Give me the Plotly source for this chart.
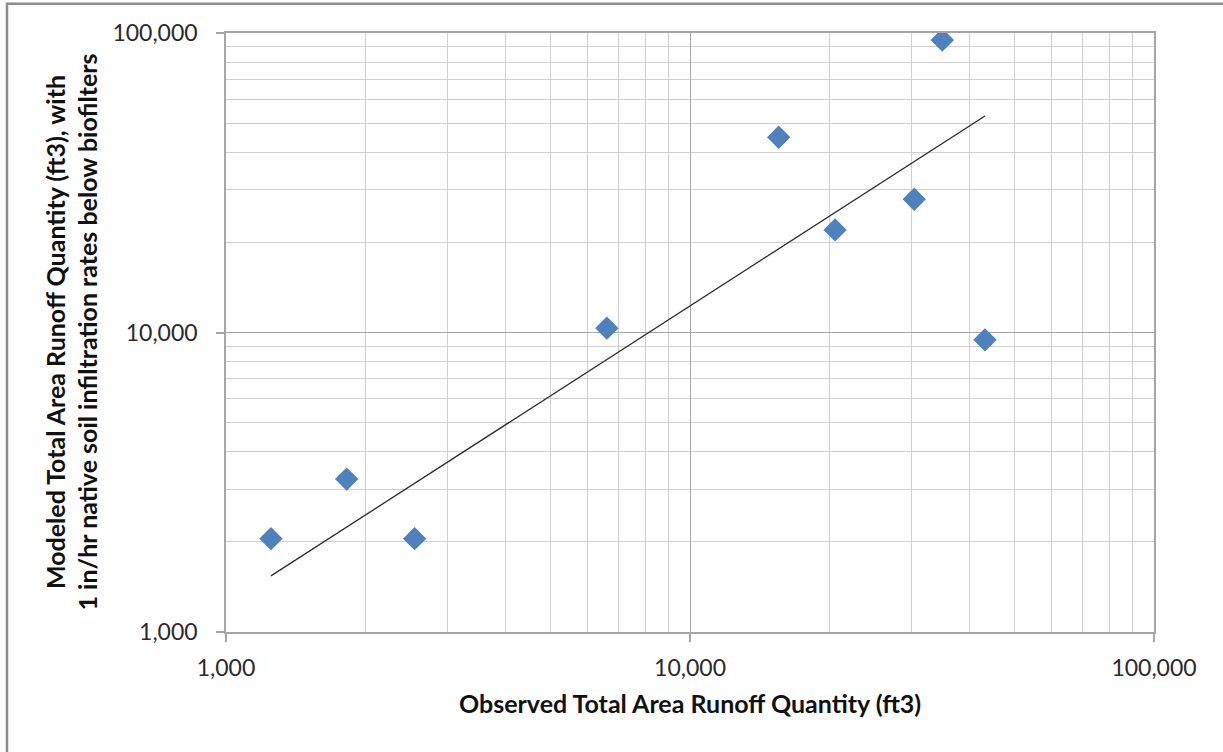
import plotly.graph_objects as go

# Observed vs. modeled runoff volumes (ft3) per storm event
observed_ft3 = [1250, 1820, 2550, 6620, 15530, 20540, 30430, 34980, 43220]
modeled_ft3 = [2050, 3240, 2050, 10340, 44870, 22010, 27860, 94770, 9450]

# Trend line end points (drawn across the observed range)
trend_x = [1250, 43220]
trend_y = [1540, 52840]

major_ticks = [1000, 10000, 100000]
major_labels = ["1,000", "10,000", "100,000"]
minor_ticks = [m * d for d in (1000, 10000) for m in range(2, 10)]

x_title = "Observed Total Area Runoff Quantity (ft3)"
y_title = ("Modeled Total Area Runoff Quantity (ft3), with<br>"
           "1 in/hr native soil infiltration rates below biofilters")

FONT = "Lato, 'Open Sans', sans-serif"
MAJOR_GRID = "#a6a6a6"
MINOR_GRID = "#d0d0d0"

fig = go.Figure()

fig.add_trace(go.Scatter(
    x=observed_ft3, y=modeled_ft3, mode="markers",
    marker=dict(symbol="diamond", size=18, color="#4f81bd",
                line=dict(width=0)),
    showlegend=False, hoverinfo="x+y",
))

fig.add_trace(go.Scatter(
    x=trend_x, y=trend_y, mode="lines",
    line=dict(color="#2b2b2b", width=1.3),
    showlegend=False, hoverinfo="skip",
))

axis_common = dict(
    type="log",
    tickmode="array",
    tickvals=major_ticks,
    ticktext=major_labels,
    showgrid=True,
    gridcolor=MAJOR_GRID,
    gridwidth=1,
    minor=dict(tickmode="array", tickvals=minor_ticks, showgrid=True,
               gridcolor=MINOR_GRID, gridwidth=1, ticks=""),
    showline=True,
    linecolor="#a6a6a6",
    linewidth=1.5,
    mirror=True,
    ticks="outside",
    ticklen=8,
    tickcolor="#a6a6a6",
    tickwidth=1.5,
    zeroline=False,
    tickfont=dict(family=FONT, size=23, color="#2a2a2a"),
)

fig.update_xaxes(range=[3, 5], ticklabelstandoff=7, **axis_common)
fig.update_yaxes(range=[3, 5], ticklabelstandoff=14, **axis_common)

fig.update_layout(
    width=1223, height=752,
    margin=dict(l=226, r=69, t=33, b=120),
    paper_bgcolor="white",
    plot_bgcolor="white",
    annotations=[
        dict(text=x_title, xref="paper", yref="paper", x=0.5, y=-0.118,
             xanchor="center", yanchor="middle", showarrow=False,
             font=dict(family=FONT, size=25, color="#111111", weight="bold")),
        dict(text=y_title, xref="paper", yref="paper", x=-0.167, y=0.5,
             xanchor="center", yanchor="middle", showarrow=False,
             textangle=-90,
             font=dict(family=FONT, size=25, color="#111111", weight="bold")),
    ],
    shapes=[
        dict(type="rect", xref="paper", yref="paper",
             x0=-0.236, x1=1.2, y0=-0.4, y1=1.049,
             line=dict(color="#8c8c8c", width=2.5), layer="above"),
    ],
)

fig.write_html("out.html")
